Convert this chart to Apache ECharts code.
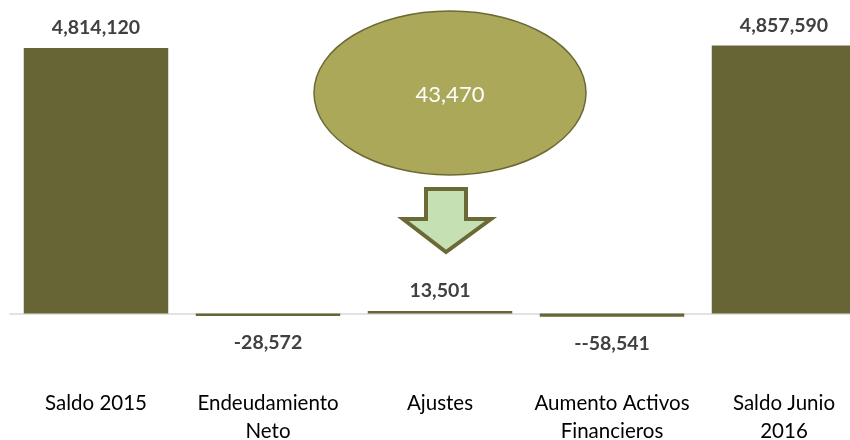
<!DOCTYPE html>
<html>
<head>
<meta charset="utf-8">
<script src="https://cdn.jsdelivr.net/npm/echarts@6/dist/echarts.min.js"></script>
<style>
  html, body { margin: 0; padding: 0; background: #fff; }
  #chart { width: 850px; height: 440px; }
</style>
</head>
<body>
<div id="chart"></div>
<script>
/* Variación del saldo: Saldo 2015 -> Saldo Junio 2016 (bars from zero, plus ellipse note). */
const categories = ['Saldo 2015', 'Endeudamiento\nNeto', 'Ajustes', 'Aumento Activos\nFinancieros', 'Saldo Junio\n2016'];
const values = [4814120, -28572, 13501, -58541, 4857590];
const valueLabels = ['4,814,120', '-28,572', '13,501', '--58,541', '4,857,590'];
const noteValue = '43,470';

const OLIVE = '#676535';
const FONT = 'Lato, "Open Sans", sans-serif';

const chart = echarts.init(document.getElementById('chart'), null, { renderer: 'canvas' });

chart.setOption({
  animation: false,
  grid: { left: 10, top: 0, right: -20, bottom: 100, outerBoundsMode: 'none', containLabel: false },
  xAxis: [
    {
      type: 'category', data: categories,
      axisLine: { onZero: true, lineStyle: { color: '#d9d9d9', width: 1.5 } },
      axisTick: { show: false },
      axisLabel: { show: false }
    },
    {
      type: 'category', data: categories, position: 'bottom',
      axisLine: { show: false, onZero: false }, axisTick: { show: false },
      axisLabel: {
        interval: 0, margin: 49, color: '#000', fontSize: 20.5, fontFamily: FONT,
        lineHeight: 28, verticalAlign: 'top'
      }
    }
  ],
  yAxis: {
    type: 'value', min: -480000, max: 5684000, show: false,
    splitLine: { show: false }
  },
  series: [{
    type: 'bar', xAxisIndex: 0, barCategoryGap: '16%', barMinHeight: 2.5,
    itemStyle: { color: OLIVE },
    data: values.map((v, i) => ({
      value: v,
      label: {
        show: true, position: v < 0 ? 'bottom' : 'top', distance: v < 0 ? 17 : 10,
        formatter: () => valueLabels[i],
        color: '#404040', fontSize: 19.5, fontWeight: 'bold', fontFamily: FONT
      }
    }))
  }],
  graphic: [
    {
      type: 'ellipse', shape: { cx: 450, cy: 93, rx: 136, ry: 82 },
      style: { fill: '#aca85a', stroke: '#6b6a36', lineWidth: 1.5 }
    },
    {
      type: 'text', x: 450, y: 95,
      style: {
        text: noteValue, fill: '#fff', font: '22px ' + FONT,
        textAlign: 'center', textVerticalAlign: 'middle'
      }
    },
    {
      type: 'polygon',
      shape: { points: [[426, 189], [466, 189], [466, 219], [491, 219], [446, 252], [403, 219], [426, 219]] },
      style: { fill: '#c5e0b3', stroke: '#6b6a36', lineWidth: 4, lineJoin: 'miter' }
    }
  ]
});
</script>
</body>
</html>
